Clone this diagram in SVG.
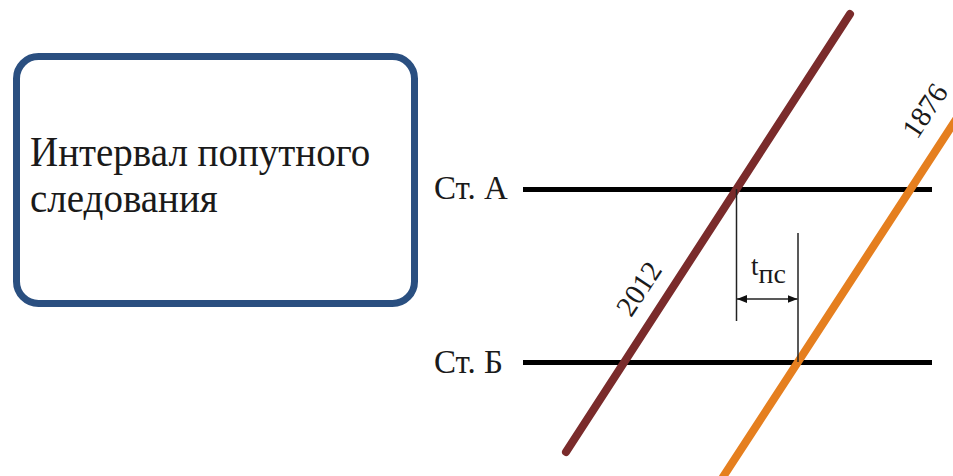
<svg xmlns="http://www.w3.org/2000/svg" width="953" height="476" viewBox="0 0 953 476">
  <defs>
    <style>
      .serif { font-family: "Liberation Serif", "Times New Roman", serif; fill: #1a1a1a; }
      .station { stroke: #000; stroke-width: 5; fill: none; }
      .dim { stroke: #222; stroke-width: 1.5; fill: none; }
      .train { stroke-width: 8; stroke-linecap: round; fill: none; }
    </style>
    <marker id="arr" viewBox="0 0 10 8" refX="10" refY="4" markerWidth="10" markerHeight="8" markerUnits="userSpaceOnUse" orient="auto-start-reverse">
      <path d="M0,0 L10,4 L0,8 Z" fill="#111"/>
    </marker>
  </defs>
  <rect width="953" height="476" fill="#ffffff"/>

  <g id="title-box">
    <rect x="16.5" y="56.5" width="398" height="247" rx="22" ry="22" fill="#ffffff" stroke="#2a4f80" stroke-width="7"/>
    <g transform="translate(0,166) scale(1,1.1)">
      <text class="serif" x="30" y="0" font-size="39">Интервал попутного</text>
      <text class="serif" x="30" y="42" font-size="39">следования</text>
    </g>
  </g>

  <g id="station-a">
    <text class="serif" x="434" y="199" font-size="33">Ст. А</text>
    <line class="station" x1="523" y1="189.5" x2="932" y2="189.5"/>
  </g>

  <g id="station-b">
    <text class="serif" x="434" y="373" font-size="33">Ст. Б</text>
    <line class="station" x1="523" y1="362.5" x2="932" y2="362.5"/>
  </g>

  <g id="connectors">
    <line id="train-2012" class="train" stroke="#7a2b2b" x1="850" y1="14" x2="566" y2="452"/>
    <line id="train-1876" class="train" stroke="#e57f1f" stroke-linecap="butt" x1="723" y1="477" x2="957" y2="118"/>
    <line class="dim" x1="736.5" y1="189" x2="736.5" y2="321"/>
    <line class="dim" x1="798" y1="233" x2="798" y2="362"/>
    <line class="dim" x1="737" y1="299" x2="797.5" y2="299" marker-start="url(#arr)" marker-end="url(#arr)"/>
  </g>

  <g id="label-2012">
    <text class="serif" font-size="29" text-anchor="middle" transform="translate(647,294) rotate(-56.5)">2012</text>
  </g>
  <g id="label-1876">
    <text class="serif" font-size="29" text-anchor="middle" transform="translate(933,116) rotate(-56.5)">1876</text>
  </g>
  <g id="label-tpc">
    <text class="serif" x="751" y="275" font-size="27">t<tspan font-size="28" dy="8">пс</tspan></text>
  </g>
</svg>
